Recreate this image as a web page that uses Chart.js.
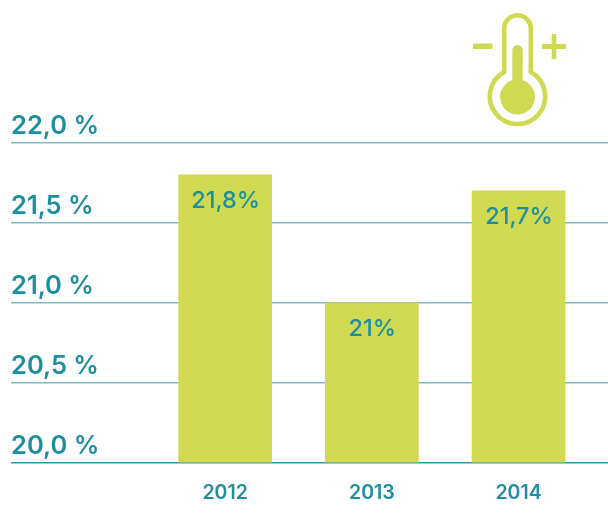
<!DOCTYPE html>
<html>
<head>
<meta charset="utf-8">
<style>
  body { margin: 0; background: #fff; }
  #wrap { position: relative; width: 608px; height: 520px; }
  #icon { position: absolute; left: 0; top: 0; }
</style>
<script src="https://cdn.jsdelivr.net/npm/chart.js@4"></script>
</head>
<body>
<div id="wrap">
  <canvas id="chart" width="608" height="520"></canvas>
  <svg id="icon" width="608" height="140" fill="#cfd952">
    <rect x="473" y="43.5" width="19.5" height="5.5"/>
    <rect x="542" y="44" width="24" height="5"/>
    <rect x="551.7" y="34" width="4.6" height="25"/>
    <path d="M504.2 72V28.5A13.3 13.3 0 0 1 530.8 28.5V72A27.7 27.7 0 1 1 504.2 72Z" fill="none" stroke="#cfd952" stroke-width="4.6"/>
    <circle cx="517.5" cy="97" r="17.5"/>
    <rect x="512.3" y="45" width="10.4" height="50" rx="5.2"/>
  </svg>
</div>
<script>
const years = [2012, 2013, 2014];
const rates = [21.8, 21, 21.7];
const valueLabels = ["21,8%", "21%", "21,7%"];
const yTicks = [20, 20.5, 21, 21.5, 22];
const yTickLabels = ["20,0 %", "20,5 %", "21,0 %", "21,5 %", "22,0 %"];

const TEAL = "#1f8e9e";
const FONT = "Inter, sans-serif";

const barLabels = {
  id: "barLabels",
  afterDatasetsDraw(chart) {
    const ctx = chart.ctx;
    ctx.save();
    ctx.font = "500 23.5px " + FONT;
    ctx.fillStyle = TEAL;
    ctx.textAlign = "center";
    ctx.textBaseline = "middle";
    chart.getDatasetMeta(0).data.forEach((bar, i) => {
      ctx.fillText(valueLabels[i], bar.x + 0.5, bar.y + 26);
    });
    ctx.restore();
  }
};

new Chart(document.getElementById("chart"), {
  type: "bar",
  data: {
    datasets: [{
      data: years.map((y, i) => ({ x: y, y: rates[i] })),
      backgroundColor: "#cfd952",
      barThickness: 93
    }]
  },
  plugins: [barLabels],
  options: {
    responsive: false,
    animation: false,
    layout: { padding: { left: 11, top: 143, right: 0, bottom: 0 } },
    plugins: { legend: { display: false }, tooltip: { enabled: false } },
    scales: {
      x: {
        type: "linear",
        offset: false,
        min: 2010.54,
        max: 2014.61,
        afterBuildTicks(axis) { axis.ticks = years.map(y => ({ value: y })); },
        afterFit(axis) { axis.height = 57.5; },
        grid: { display: false, drawTicks: false },
        border: { display: false },
        ticks: {
          color: TEAL,
          padding: 19,
          maxRotation: 0,
          font: { family: "Inter", size: 19.5, weight: "600" },
          callback: v => String(v)
        }
      },
      y: {
        min: 20,
        max: 22,
        afterBuildTicks(axis) { axis.ticks = yTicks.map(v => ({ value: v })); },
        afterFit(axis) { axis.paddingTop = 0; axis.paddingBottom = 0; },
        grid: {
          drawTicks: false,
          lineWidth: 1.5,
          color: ctx => ctx.tick.value === 20 ? "#2a9aad" : "#7fbcc4"
        },
        border: { display: false },
        ticks: {
          mirror: true,
          padding: 0,
          labelOffset: -16.5,
          color: TEAL,
          font: { family: "Inter", size: 25.5, weight: "600" },
          callback: v => yTickLabels[yTicks.indexOf(v)]
        }
      }
    }
  }
});
</script>
</body>
</html>
